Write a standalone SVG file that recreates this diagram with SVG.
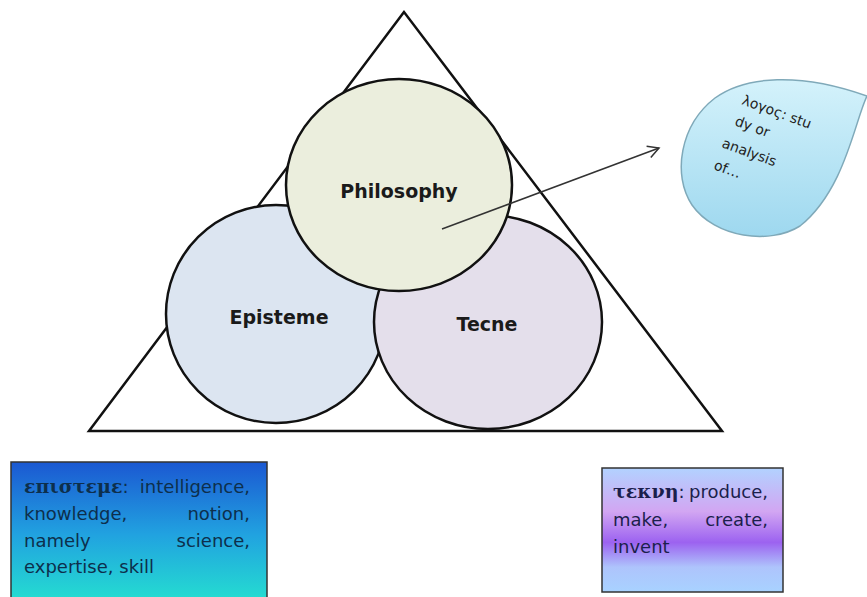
<svg xmlns="http://www.w3.org/2000/svg" width="867" height="597" viewBox="0 0 867 597">
<defs>
  <linearGradient id="gEpi" x1="0" y1="0" x2="0" y2="1">
    <stop offset="0" stop-color="#1b58d2"/>
    <stop offset="0.5" stop-color="#21a2e0"/>
    <stop offset="1" stop-color="#25e3cf"/>
  </linearGradient>
  <linearGradient id="gTec" x1="0" y1="0" x2="0" y2="1">
    <stop offset="0" stop-color="#b2d2ff"/>
    <stop offset="0.35" stop-color="#d2a6f2"/>
    <stop offset="0.6" stop-color="#9c62f0"/>
    <stop offset="0.8" stop-color="#aec4fc"/>
    <stop offset="1" stop-color="#a8d2ff"/>
  </linearGradient>
  <linearGradient id="gBub" x1="0" y1="0" x2="0" y2="1">
    <stop offset="0" stop-color="#d4f2fb"/>
    <stop offset="1" stop-color="#9ed8ef"/>
  </linearGradient>
  <marker id="arr" viewBox="0 0 14 14" refX="12" refY="7" markerWidth="14" markerHeight="14" markerUnits="userSpaceOnUse" orient="auto">
    <polyline points="1,1 12,7 1,13" fill="none" stroke="#333" stroke-width="1.5"/>
  </marker>
  <style>
    .circ { stroke: #111; stroke-width: 2.5; }
    .lbl { font-family: "DejaVu Sans", "Liberation Sans", sans-serif; font-weight: bold; font-size: 19px; fill: #1a1a1a; text-anchor: middle; }
    .box { stroke: #333; stroke-width: 1.5; }
    .bt { font-family: "DejaVu Sans", "Liberation Sans", sans-serif; font-size: 18px; }
    .gr { font-family: "DejaVu Serif", "Liberation Serif", serif; font-weight: bold; font-size: 19px; }
    .bub { font-family: "DejaVu Sans", "Liberation Sans", sans-serif; font-size: 14px; fill: #222; }
  </style>
</defs>
<rect width="867" height="597" fill="#ffffff"/>

<g id="triangle">
  <polygon points="404,12 89,431 722,431" fill="#ffffff" stroke="#111" stroke-width="2.5" stroke-linejoin="miter"/>
</g>

<g id="episteme">
  <ellipse class="circ" cx="276" cy="314" rx="110" ry="109" fill="#dce5f1"/>
  <text class="lbl" x="279" y="324">Episteme</text>
</g>

<g id="tecne">
  <ellipse class="circ" cx="488" cy="322" rx="114" ry="107" fill="#e4dfeb"/>
  <text class="lbl" x="487" y="331">Tecne</text>
</g>

<g id="philosophy">
  <ellipse class="circ" cx="399" cy="185" rx="113" ry="106" fill="#ebeedd"/>
  <text class="lbl" x="399" y="198">Philosophy</text>
</g>

<g id="connectors">
  <line x1="442" y1="229" x2="659" y2="148" stroke="#333" stroke-width="1.5" marker-end="url(#arr)"/>
</g>

<g id="logos">
  <path d="M 867 96 C 855 120, 845 190, 800 226 C 770 245, 715 238, 692 205 C 672 175, 680 125, 715 98 C 745 76, 800 72, 867 96 Z" fill="url(#gBub)" stroke="#7fa9b9" stroke-width="1.5"/>
  <text class="bub" transform="translate(741,104) rotate(20)">λογος: stu</text>
  <text class="bub" transform="translate(734,125) rotate(20)">dy or</text>
  <text class="bub" transform="translate(721,147) rotate(20)">analysis</text>
  <text class="bub" transform="translate(713,169) rotate(20)">of…</text>
</g>

<g id="episteme-def">
  <rect class="box" x="11" y="462" width="256" height="145" fill="url(#gEpi)"/>
  <g fill="#0d2f4c">
    <text x="24" y="493"><tspan class="gr">επιστεμε</tspan><tspan class="bt">:</tspan></text>
    <text class="bt" x="250" y="493" text-anchor="end">intelligence,</text>
    <text class="bt" x="24" y="520">knowledge,</text>
    <text class="bt" x="250" y="520" text-anchor="end">notion,</text>
    <text class="bt" x="24" y="547">namely</text>
    <text class="bt" x="250" y="547" text-anchor="end">science,</text>
    <text class="bt" x="24" y="573">expertise, skill</text>
  </g>
</g>

<g id="tecne-def">
  <rect class="box" x="602" y="468" width="181" height="124" fill="url(#gTec)"/>
  <g fill="#1b1f4c">
    <text x="613" y="498"><tspan class="gr">τεκνη</tspan><tspan class="bt">:</tspan></text>
    <text class="bt" x="768" y="498" text-anchor="end">produce,</text>
    <text class="bt" x="613" y="526">make,</text>
    <text class="bt" x="768" y="526" text-anchor="end">create,</text>
    <text class="bt" x="613" y="553">invent</text>
  </g>
</g>
</svg>
